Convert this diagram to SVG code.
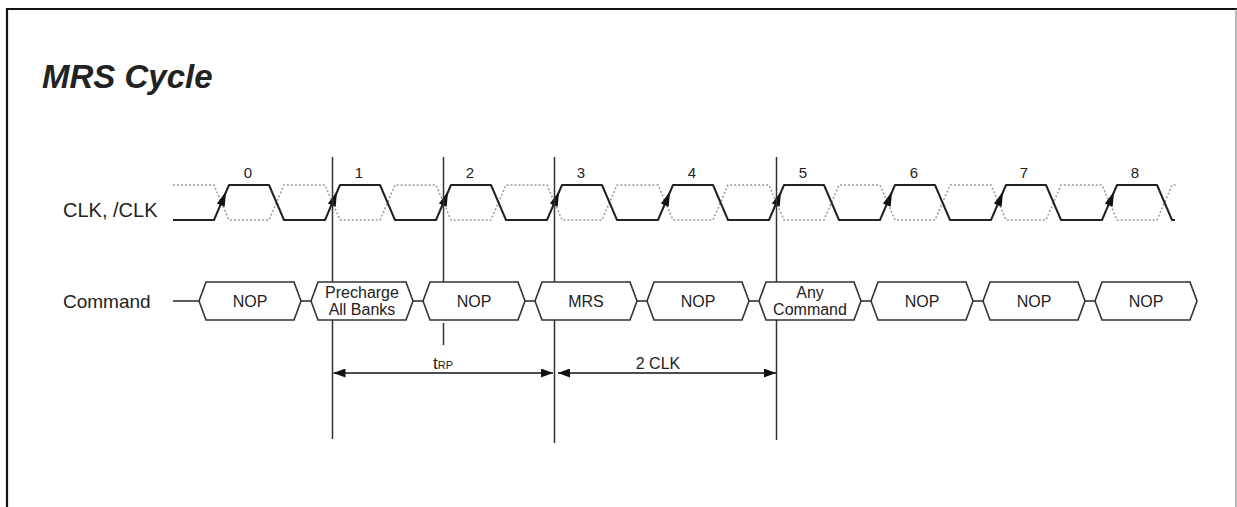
<svg xmlns="http://www.w3.org/2000/svg" width="1237" height="507" viewBox="0 0 1237 507">
<style>
  .t { font-family: "Liberation Sans", Arial, sans-serif; fill: #222; }
  .lbl { font-size: 19px; }
  .num { font-size: 15px; text-anchor: middle; }
  .box { fill: #fff; stroke: #333; stroke-width: 1.6; stroke-linejoin: miter; }
  .bt { font-size: 16px; text-anchor: middle; }
  .clk { fill: none; stroke: #222; stroke-width: 2; stroke-linejoin: round; }
  .nclk { fill: none; stroke: #999; stroke-width: 1.5; stroke-dasharray: 2 2; }
  .vl { stroke: #333; stroke-width: 1.5; }
  .wire { stroke: #333; stroke-width: 1.6; }
</style>
<defs>
  <polygon id="edgeArrow" points="4.5,-11 -4.6,1 3.2,4.3" fill="#111"/>
  <marker id="ah" viewBox="0 0 12 9" refX="12" refY="4.5" markerWidth="12" markerHeight="9" markerUnits="userSpaceOnUse" orient="auto-start-reverse">
    <path d="M0,0 L12,4.5 L0,9 z" fill="#111"/>
  </marker>
</defs>
<rect width="1237" height="507" fill="#fff"/>
<g id="frame">
  <line x1="7" y1="9" x2="1237" y2="9" stroke="#111" stroke-width="2.2"/>
  <line x1="7" y1="8" x2="7" y2="507" stroke="#111" stroke-width="2.2"/>
  <line x1="1236" y1="9" x2="1236" y2="507" stroke="#888" stroke-width="1.2"/>
</g>
<text id="title" class="t" x="42" y="88" font-size="33" font-weight="bold" font-style="italic" fill="#111">MRS Cycle</text>
<g id="labels">
  <text class="t" x="63" y="217" font-size="20">CLK, /CLK</text>
  <text class="t lbl" x="63" y="308">Command</text>
</g>
<g id="clock">
  <path class="nclk" d="M173,185 H214 L229,220 H269 L284,185 H325 L340,220 H380 L395,185 H436 L451,220 H491 L506,185 H547 L562,220 H602 L617,185 H658 L673,220 H713 L728,185 H769 L784,220 H824 L839,185 H880 L895,220 H935 L950,185 H991 L1006,220 H1046 L1061,185 H1102 L1117,220 H1157 L1172,185 L1177,185"/>
  <path class="clk" d="M173,220 H214 L229,185 H269 L284,220 H325 L340,185 H380 L395,220 H436 L451,185 H491 L506,220 H547 L562,185 H602 L617,220 H658 L673,185 H713 L728,220 H769 L784,185 H824 L839,220 H880 L895,185 H935 L950,220 H991 L1006,185 H1046 L1061,220 H1102 L1117,185 H1157 L1172,220 L1175,220"/>
  <use href="#edgeArrow" x="221.5" y="202.5"/>
  <use href="#edgeArrow" x="332.5" y="202.5"/>
  <use href="#edgeArrow" x="443.5" y="202.5"/>
  <use href="#edgeArrow" x="554.5" y="202.5"/>
  <use href="#edgeArrow" x="665.5" y="202.5"/>
  <use href="#edgeArrow" x="776.5" y="202.5"/>
  <use href="#edgeArrow" x="887.5" y="202.5"/>
  <use href="#edgeArrow" x="998.5" y="202.5"/>
  <use href="#edgeArrow" x="1109.5" y="202.5"/>
  <text class="t num" x="248" y="178">0</text>
  <text class="t num" x="359" y="178">1</text>
  <text class="t num" x="470" y="178">2</text>
  <text class="t num" x="581" y="178">3</text>
  <text class="t num" x="692" y="178">4</text>
  <text class="t num" x="803" y="178">5</text>
  <text class="t num" x="914" y="178">6</text>
  <text class="t num" x="1024" y="178">7</text>
  <text class="t num" x="1135" y="178">8</text>
</g>
<g id="connectors">
  <line class="vl" x1="332.5" y1="157" x2="332.5" y2="439"/>
  <line class="vl" x1="443.5" y1="157" x2="443.5" y2="290"/>
  <line class="vl" x1="443.5" y1="323" x2="443.5" y2="345"/>
  <line class="vl" x1="554.5" y1="157" x2="554.5" y2="443"/>
  <line class="vl" x1="776.5" y1="157" x2="776.5" y2="440"/>
  <line class="wire" x1="173" y1="301" x2="199" y2="301"/>
  <line class="wire" x1="301" y1="301" x2="311" y2="301"/>
  <line class="wire" x1="413" y1="301" x2="423" y2="301"/>
  <line class="wire" x1="525" y1="301" x2="535" y2="301"/>
  <line class="wire" x1="637" y1="301" x2="647" y2="301"/>
  <line class="wire" x1="749" y1="301" x2="759" y2="301"/>
  <line class="wire" x1="861" y1="301" x2="871" y2="301"/>
  <line class="wire" x1="973" y1="301" x2="983" y2="301"/>
  <line class="wire" x1="1085" y1="301" x2="1095" y2="301"/>
  <line stroke="#111" stroke-width="1.6" x1="333.5" y1="373" x2="553" y2="373" marker-start="url(#ah)" marker-end="url(#ah)"/>
  <line stroke="#111" stroke-width="1.6" x1="558" y1="373" x2="776" y2="373" marker-start="url(#ah)" marker-end="url(#ah)"/>
  <text class="t" x="443" y="369" text-anchor="middle"><tspan font-size="17">t</tspan><tspan font-size="11">RP</tspan></text>
  <text class="t" x="658" y="369" font-size="16" text-anchor="middle">2 CLK</text>
</g>
<g id="cmd0"><path class="box" d="M199,301 L206,282 H294 L301,301 L294,320 H206 Z"/><text class="t bt" x="250" y="307">NOP</text></g>
<g id="cmd1"><path class="box" d="M311,301 L318,282 H406 L413,301 L406,320 H318 Z"/><text class="t bt" x="362" y="298">Precharge</text><text class="t bt" x="362" y="315">All Banks</text></g>
<g id="cmd2"><path class="box" d="M423,301 L430,282 H518 L525,301 L518,320 H430 Z"/><text class="t bt" x="474" y="307">NOP</text></g>
<g id="cmd3"><path class="box" d="M535,301 L542,282 H630 L637,301 L630,320 H542 Z"/><text class="t bt" x="586" y="307">MRS</text></g>
<g id="cmd4"><path class="box" d="M647,301 L654,282 H742 L749,301 L742,320 H654 Z"/><text class="t bt" x="698" y="307">NOP</text></g>
<g id="cmd5"><path class="box" d="M759,301 L766,282 H854 L861,301 L854,320 H766 Z"/><text class="t bt" x="810" y="298">Any</text><text class="t bt" x="810" y="315">Command</text></g>
<g id="cmd6"><path class="box" d="M871,301 L878,282 H966 L973,301 L966,320 H878 Z"/><text class="t bt" x="922" y="307">NOP</text></g>
<g id="cmd7"><path class="box" d="M983,301 L990,282 H1078 L1085,301 L1078,320 H990 Z"/><text class="t bt" x="1034" y="307">NOP</text></g>
<g id="cmd8"><path class="box" d="M1095,301 L1102,282 H1190 L1197,301 L1190,320 H1102 Z"/><text class="t bt" x="1146" y="307">NOP</text></g>
</svg>
